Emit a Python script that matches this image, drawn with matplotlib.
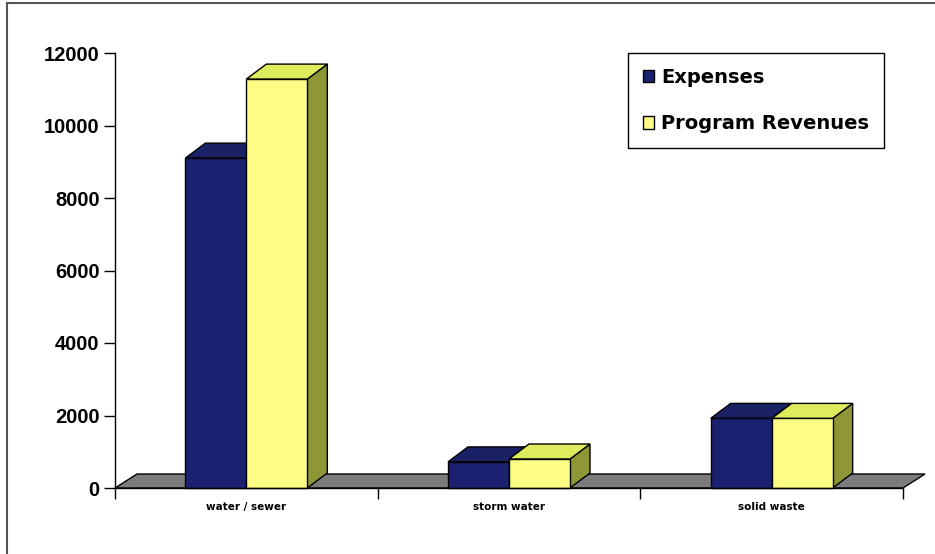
import matplotlib
matplotlib.use("Agg")
import matplotlib.pyplot as plt
from matplotlib.patches import Polygon, Patch
from matplotlib.lines import Line2D

# ---- data ----
categories = ["water / sewer", "storm water", "solid waste"]
series_names = ["Expenses", "Program Revenues"]
expenses = [9100, 720, 1920]
revenues = [11280, 800, 1920]
yticks = [0, 2000, 4000, 6000, 8000, 10000, 12000]

# ---- style ----
W_PX, H_PX, DPI = 935, 554, 100
front_cols = ["#1A2170", "#FDFD86"]
top_cols = ["#1A2164", "#DDEB5C"]
side_cols = ["#121852", "#8E9636"]
floor_col = "#7C7C7C"

fig = plt.figure(figsize=(W_PX / DPI, H_PX / DPI), dpi=DPI)
ax_l, ax_r, ax_t, ax_b = 115, 903, 53, 488
ax = fig.add_axes([ax_l / W_PX, 1 - ax_b / H_PX, (ax_r - ax_l) / W_PX, (ax_b - ax_t) / H_PX])
ax.set_xlim(-0.5, 2.5)
ax.set_ylim(0, 12000)

px_x = (ax_r - ax_l) / 3.0          # pixels per x unit
px_y = (ax_b - ax_t) / 12000.0      # pixels per y unit
bar_dx, bar_dy = 20 / px_x, 15 / px_y
floor_dx, floor_dy = 22 / px_x, 14 / px_y
w = 61 / px_x

# floor
ax.add_patch(Polygon([(-0.5, 0), (2.5, 0), (2.5 + floor_dx, floor_dy), (-0.5 + floor_dx, floor_dy)],
                     closed=True, facecolor=floor_col, edgecolor="black", lw=1.0,
                     clip_on=False, zorder=1))

z = 2
for i in range(len(categories)):
    for s, vals in enumerate([expenses, revenues]):
        h = vals[i]
        x0 = i - w + s * w
        x1 = x0 + w
        ax.bar(x0, h, width=w, align="edge", color=front_cols[s], edgecolor="black",
               lw=1.0, zorder=z + 0.2, clip_on=False)
        ax.add_patch(Polygon([(x0, h), (x1, h), (x1 + bar_dx, h + bar_dy), (x0 + bar_dx, h + bar_dy)],
                             closed=True, facecolor=top_cols[s], edgecolor="black", lw=1.0,
                             clip_on=False, zorder=z + 0.1))
        ax.add_patch(Polygon([(x1, 0), (x1 + bar_dx, bar_dy), (x1 + bar_dx, h + bar_dy), (x1, h)],
                             closed=True, facecolor=side_cols[s], edgecolor="black", lw=1.0,
                             clip_on=False, zorder=z))
        z += 1

# axes styling
for sp in ["top", "right"]:
    ax.spines[sp].set_visible(False)
for sp in ["left", "bottom"]:
    ax.spines[sp].set_color("black")
    ax.spines[sp].set_linewidth(1.0)
    ax.spines[sp].set_zorder(20)

ax.set_yticks(yticks)
ax.set_yticklabels([str(v) for v in yticks], fontfamily="Liberation Sans",
                   fontweight="bold", fontsize=14.5)
ax.tick_params(axis="y", direction="out", length=8, width=1, pad=3)

ax.set_xticks([-0.5, 0.5, 1.5, 2.5])
ax.set_xticklabels([])
ax.tick_params(axis="x", which="major", direction="out", length=8, width=1)
ax.set_xticks(range(len(categories)), minor=True)
ax.set_xticklabels(categories, minor=True, fontfamily="DejaVu Sans",
                   fontweight="bold", fontsize=7.5)
ax.tick_params(axis="x", which="minor", length=0, pad=10)

# legend
handles = [Patch(facecolor=front_cols[k], edgecolor="black", lw=1.0) for k in range(2)]
leg = ax.legend(handles, series_names, loc="upper left",
                bbox_to_anchor=(628 / W_PX, 1 - 53 / H_PX), bbox_transform=fig.transFigure,
                prop={"family": "DejaVu Sans", "weight": "bold", "size": 14},
                frameon=True, fancybox=False, edgecolor="black", framealpha=1,
                handlelength=0.6, handleheight=0.6, handletextpad=0.35,
                labelspacing=1.42, borderpad=0.75, borderaxespad=0)
leg.get_frame().set_linewidth(1.0)
leg.set_zorder(30)

# outer frame lines
fig.add_artist(Line2D([7 / W_PX, 1], [1 - 3 / H_PX, 1 - 3 / H_PX], color="#555555", lw=1.5))
fig.add_artist(Line2D([7 / W_PX, 7 / W_PX], [0, 1 - 3 / H_PX], color="#555555", lw=1.5))

fig.savefig("out.png", dpi=DPI)
